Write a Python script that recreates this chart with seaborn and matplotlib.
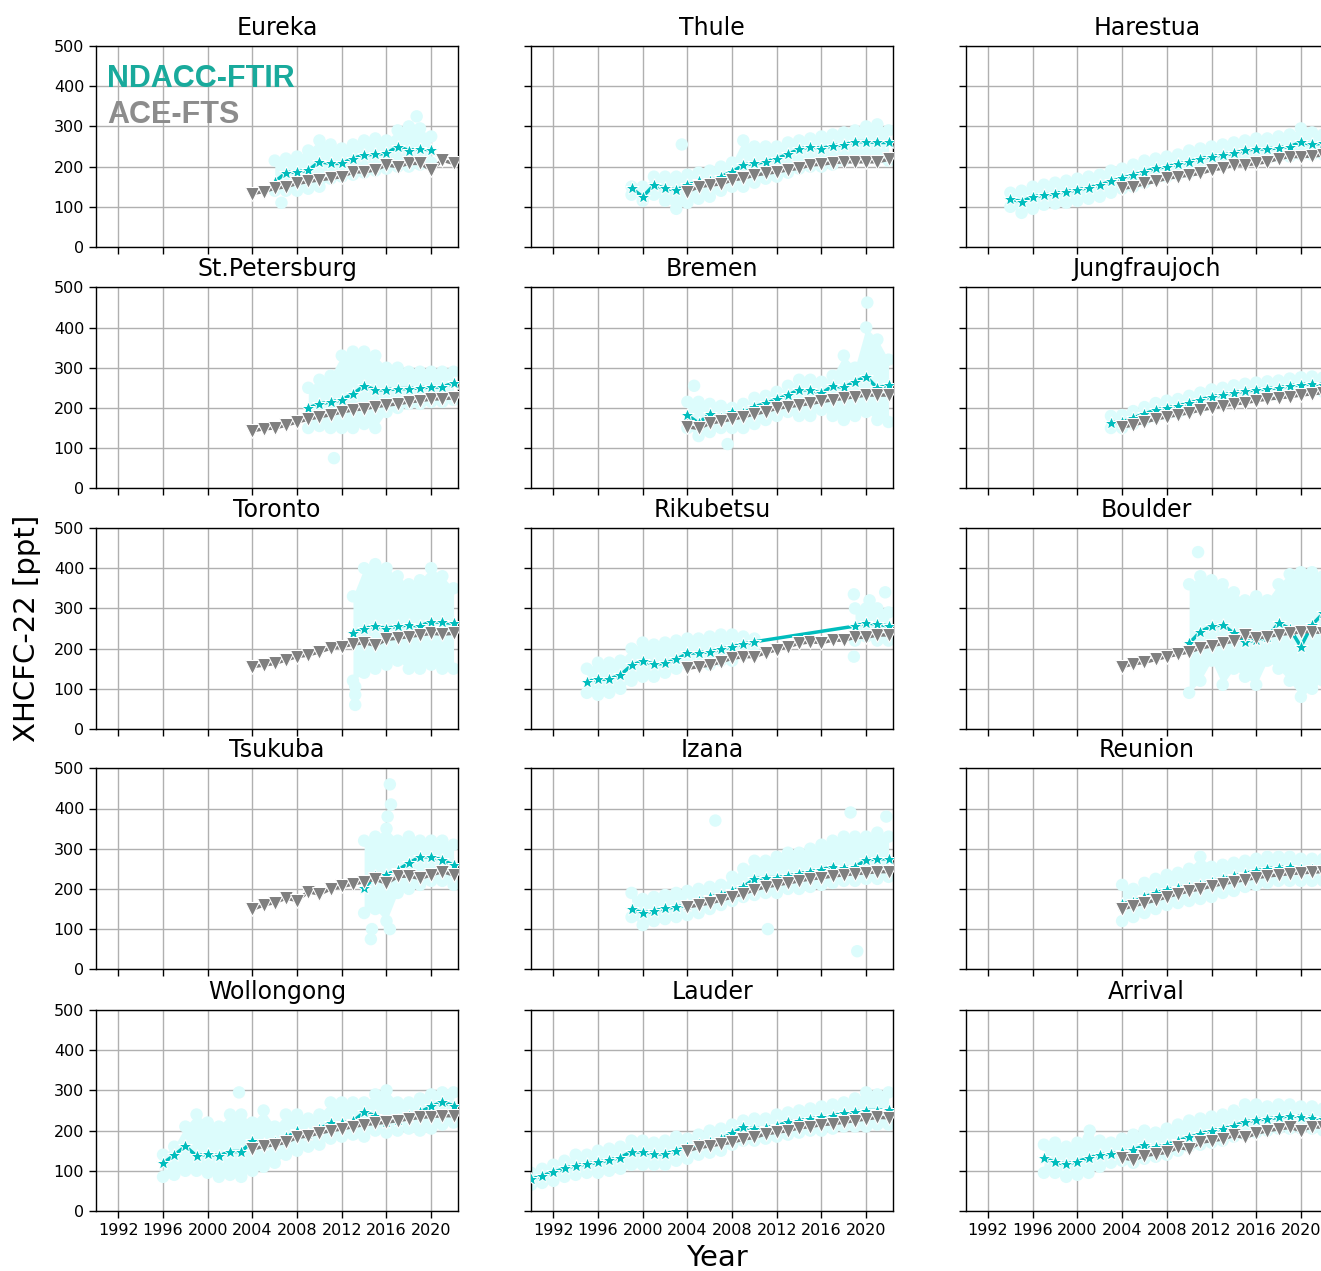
import matplotlib
matplotlib.use("Agg")
import matplotlib.pyplot as plt
import seaborn as sns
import numpy as np

# ---------------- data ----------------
ACE_YEARS = list(range(2004, 2023))

EUREKA_FTIR_YEARS = list(range(2006, 2021))
EUREKA_FTIR = [162, 185, 187, 191, 212, 208, 208, 220, 229, 231, 233, 250, 240, 245, 241]
EUREKA_LO = [140, 140, 140, 145, 150, 170, 175, 180, 185, 190, 195, 200, 200, 205, 210]
EUREKA_HI = [215, 220, 225, 240, 265, 255, 245, 255, 265, 270, 265, 290, 300, 295, 275]
EUREKA_OUT = [(2006.6, 110), (2018.7, 325)]
EUREKA_ACE = [133, 138, 146, 150, 158, 163, 167, 171, 175, 187, 187, 192, 204, 200, 208, 208, 192, 216, 208]

THULE_FTIR_YEARS = list(range(1999, 2023))
THULE_FTIR = [146, 125, 154, 146, 142, 154, 163, 163, 175, 187, 204, 208, 212, 220, 231, 243, 250, 245, 252, 254, 262, 262, 260, 260]
THULE_LO = [130, 115, 130, 115, 95, 110, 120, 125, 140, 150, 150, 160, 170, 175, 185, 195, 200, 200, 205, 215, 220, 220, 220, 215]
THULE_HI = [150, 150, 175, 175, 175, 180, 185, 190, 200, 210, 265, 250, 250, 250, 260, 265, 270, 275, 280, 285, 290, 300, 305, 290]
THULE_OUT = [(2003.5, 255)]
THULE_ACE = [138, 150, 154, 157, 167, 171, 179, 183, 187, 192, 196, 204, 206, 210, 212, 212, 212, 212, 218]

HARESTUA_FTIR_YEARS = list(range(1994, 2023))
HARESTUA_FTIR = [119, 113, 125, 129, 133, 138, 142, 148, 154, 163, 171, 179, 187, 196, 200, 206, 212, 220, 225, 229, 233, 241, 244, 244, 247, 250, 260, 256, 258]
HARESTUA_LO = [100, 85, 95, 105, 108, 110, 115, 120, 125, 135, 145, 150, 160, 170, 175, 180, 185, 195, 200, 205, 210, 215, 220, 220, 225, 225, 230, 230, 230]
HARESTUA_HI = [135, 140, 150, 155, 160, 165, 170, 175, 180, 190, 195, 205, 215, 220, 225, 230, 240, 245, 250, 255, 260, 265, 270, 270, 275, 280, 295, 285, 280]
HARESTUA_OUT = []
HARESTUA_ACE = [146, 150, 158, 163, 171, 175, 179, 183, 192, 196, 204, 204, 208, 212, 220, 225, 225, 226, 229]

STPETE_FTIR_YEARS = list(range(2009, 2023))
STPETE_FTIR = [200, 210, 215, 220, 235, 255, 245, 245, 248, 248, 250, 252, 252, 262]
STPETE_LO = [150, 155, 150, 150, 150, 160, 150, 190, 200, 210, 210, 215, 215, 220]
STPETE_HI = [250, 270, 280, 330, 340, 340, 330, 300, 300, 290, 290, 290, 290, 290]
STPETE_OUT = [(2011.3, 75)]
STPETE_ACE = [143, 148, 150, 157, 165, 172, 178, 183, 190, 195, 198, 203, 207, 210, 215, 218, 222, 223, 225]

BREMEN_FTIR_YEARS = list(range(2004, 2023))
BREMEN_FTIR = [182, 162, 185, 174, 191, 187, 203, 211, 221, 232, 245, 245, 236, 255, 251, 265, 278, 249, 257]
BREMEN_LO = [150, 130, 140, 150, 150, 150, 160, 170, 180, 190, 180, 180, 195, 180, 170, 180, 190, 170, 165]
BREMEN_HI = [215, 215, 210, 205, 200, 210, 225, 230, 240, 255, 270, 270, 265, 280, 330, 300, 400, 370, 320]
BREMEN_OUT = [(2004.6, 255), (2007.6, 110), (2020.1, 462)]
BREMEN_ACE = [153, 149, 162, 167, 172, 178, 185, 191, 199, 203, 207, 211, 216, 220, 224, 228, 232, 232, 232]

JUNGFRAU_FTIR_YEARS = list(range(2003, 2023))
JUNGFRAU_FTIR = [163, 165, 175, 185, 195, 200, 205, 212, 220, 228, 232, 238, 242, 245, 248, 250, 255, 258, 260, 258]
JUNGFRAU_LO = [150, 150, 160, 170, 178, 183, 188, 195, 202, 210, 214, 220, 224, 227, 230, 232, 237, 240, 242, 240]
JUNGFRAU_HI = [180, 182, 192, 202, 212, 218, 222, 230, 238, 246, 250, 256, 260, 263, 266, 268, 273, 276, 278, 276]
JUNGFRAU_OUT = []
JUNGFRAU_ACE = [152, 158, 165, 172, 178, 183, 188, 195, 200, 205, 210, 213, 218, 222, 225, 228, 232, 235, 238]

TORONTO_FTIR_YEARS = list(range(2013, 2023))
TORONTO_FTIR = [238, 250, 256, 250, 256, 259, 256, 267, 265, 263]
TORONTO_LO = [120, 140, 150, 160, 170, 150, 150, 160, 150, 150]
TORONTO_HI = [330, 400, 410, 400, 380, 360, 370, 400, 380, 350]
TORONTO_OUT = [(2013.2, 60), (2013.2, 85), (2013.2, 105)]
TORONTO_ACE = [155, 159, 163, 172, 180, 184, 192, 201, 205, 211, 215, 208, 223, 226, 230, 234, 238, 236, 238]

RIKU_FTIR_YEARS = list(range(1995, 2011)) + list(range(2019, 2023))
RIKU_FTIR = [118, 124, 124, 134, 159, 168, 162, 163, 173, 188, 190, 192, 198, 205, 211, 217, 256, 264, 261, 256]
RIKU_LO = [90, 85, 90, 100, 120, 130, 130, 140, 150, 160, 165, 160, 170, 170, 185, 190, 220, 230, 220, 220]
RIKU_HI = [150, 165, 165, 170, 200, 215, 210, 215, 220, 225, 225, 230, 235, 235, 230, 225, 300, 300, 300, 290]
RIKU_OUT = [(2018.9, 335), (2018.9, 180), (2021.7, 340), (2020.3, 320)]
RIKU_ACE = [151, 155, 159, 167, 176, 180, 180, 190, 197, 205, 213, 217, 215, 221, 221, 228, 228, 234, 234]

BOULDER_FTIR_YEARS = list(range(2010, 2023))
BOULDER_FTIR = [213, 242, 256, 259, 238, 217, 221, 228, 263, 250, 205, 259, 288]
BOULDER_LO = [90, 120, 170, 110, 150, 130, 110, 170, 150, 120, 80, 100, 120]
BOULDER_HI = [360, 380, 370, 360, 340, 320, 330, 320, 360, 385, 390, 390, 380]
BOULDER_OUT = [(2010.8, 440)]
BOULDER_ACE = [155, 162, 166, 173, 180, 186, 192, 201, 207, 213, 219, 234, 226, 230, 235, 238, 242, 242, 240]

TSUKUBA_FTIR_YEARS = list(range(2014, 2023))
TSUKUBA_FTIR = [202, 232, 235, 247, 264, 280, 280, 272, 259]
TSUKUBA_LO = [140, 150, 120, 190, 200, 210, 220, 220, 210]
TSUKUBA_HI = [320, 330, 350, 320, 330, 320, 320, 320, 310]
TSUKUBA_OUT = [(2014.6, 75), (2014.7, 100), (2016.3, 100), (2016.3, 460), (2016.4, 410), (2016.1, 380)]
TSUKUBA_ACE = [149, 160, 166, 177, 171, 193, 187, 200, 206, 212, 218, 224, 214, 231, 232, 226, 235, 243, 235]

IZANA_FTIR_YEARS = list(range(1999, 2023))
IZANA_FTIR = [150, 140, 145, 152, 155, 160, 170, 180, 185, 195, 205, 225, 228, 228, 232, 238, 243, 248, 255, 252, 255, 272, 275, 275]
IZANA_LO = [130, 110, 120, 125, 130, 135, 140, 150, 160, 170, 180, 185, 190, 190, 200, 200, 205, 210, 215, 220, 220, 225, 225, 230]
IZANA_HI = [190, 175, 180, 185, 190, 195, 200, 205, 210, 230, 250, 270, 270, 280, 290, 290, 300, 310, 320, 330, 330, 330, 340, 330]
IZANA_OUT = [(2006.5, 370), (2011.2, 100), (2019.2, 45), (2018.6, 390), (2021.8, 380)]
IZANA_ACE = [155, 160, 165, 172, 180, 188, 198, 205, 210, 215, 220, 225, 228, 232, 235, 238, 240, 243, 243]

REUNION_FTIR_YEARS = list(range(2004, 2023))
REUNION_FTIR = [163, 168, 180, 190, 197, 203, 205, 210, 218, 225, 232, 238, 245, 250, 253, 255, 250, 250, 250]
REUNION_LO = [120, 130, 140, 150, 160, 165, 170, 175, 180, 190, 195, 205, 210, 215, 220, 220, 220, 220, 220]
REUNION_HI = [210, 200, 215, 225, 235, 240, 250, 280, 255, 260, 265, 270, 275, 280, 280, 280, 275, 275, 275]
REUNION_OUT = []
REUNION_ACE = [150, 158, 165, 172, 180, 188, 195, 200, 207, 213, 218, 223, 228, 232, 235, 238, 240, 242, 243]

WOLLONGONG_FTIR_YEARS = list(range(1996, 2023))
WOLLONGONG_FTIR = [119, 139, 161, 137, 142, 137, 148, 148, 173, 167, 171, 183, 198, 192, 204, 219, 219, 223, 246, 237, 221, 227, 237, 246, 260, 271, 262]
WOLLONGONG_LO = [85, 90, 100, 100, 95, 85, 90, 85, 100, 110, 120, 140, 150, 160, 165, 180, 185, 190, 185, 200, 195, 200, 205, 200, 205, 215, 220]
WOLLONGONG_HI = [140, 160, 210, 240, 220, 210, 240, 240, 220, 250, 210, 240, 240, 230, 240, 270, 270, 270, 270, 290, 300, 270, 270, 280, 290, 295, 295]
WOLLONGONG_OUT = [(2002.8, 295)]
WOLLONGONG_ACE = [154, 161, 165, 171, 183, 187, 194, 200, 204, 210, 215, 218, 221, 225, 229, 233, 235, 237, 237]

LAUDER_FTIR_YEARS = list(range(1990, 2023))
LAUDER_FTIR = [79, 88, 96, 106, 113, 117, 121, 127, 133, 148, 146, 142, 142, 150, 158, 167, 171, 179, 193, 208, 204, 207, 212, 221, 225, 229, 233, 237, 243, 246, 250, 250, 252]
LAUDER_LO = [65, 70, 75, 85, 90, 95, 95, 100, 105, 115, 115, 115, 115, 125, 130, 140, 145, 150, 165, 175, 175, 180, 185, 190, 195, 200, 200, 205, 210, 210, 210, 215, 215]
LAUDER_HI = [95, 105, 115, 125, 140, 140, 150, 155, 160, 175, 175, 170, 175, 185, 180, 190, 200, 205, 215, 225, 230, 230, 240, 245, 250, 255, 260, 265, 270, 280, 295, 290, 295]
LAUDER_OUT = []
LAUDER_ACE = [150, 158, 162, 167, 171, 179, 183, 192, 196, 200, 207, 210, 215, 217, 221, 225, 229, 233, 232]

ARRIVAL_FTIR_YEARS = list(range(1997, 2023))
ARRIVAL_FTIR = [132, 121, 117, 123, 132, 140, 142, 146, 152, 163, 158, 165, 175, 183, 192, 200, 204, 212, 221, 227, 229, 233, 237, 235, 232, 229]
ARRIVAL_LO = [95, 95, 85, 90, 95, 110, 120, 125, 120, 130, 135, 140, 150, 160, 165, 170, 175, 185, 190, 195, 200, 205, 205, 205, 205, 200]
ARRIVAL_HI = [165, 170, 160, 170, 180, 175, 170, 180, 190, 200, 195, 205, 215, 225, 230, 235, 240, 250, 265, 265, 260, 265, 265, 260, 260, 255]
ARRIVAL_OUT = [(2001.1, 200)]
ARRIVAL_ACE = [133, 127, 138, 142, 146, 158, 154, 171, 175, 179, 188, 183, 193, 200, 204, 208, 200, 210, 208]

STATION_NAMES = ["Eureka", "Thule", "Harestua", "St.Petersburg", "Bremen", "Jungfraujoch",
                 "Toronto", "Rikubetsu", "Boulder", "Tsukuba", "Izana", "Reunion",
                 "Wollongong", "Lauder", "Arrival"]

Y_TICKS = [0, 100, 200, 300, 400, 500]
X_TICKS = [1992, 1996, 2000, 2004, 2008, 2012, 2016, 2020]

STATIONS = [
    (EUREKA_FTIR_YEARS, EUREKA_FTIR, EUREKA_LO, EUREKA_HI, EUREKA_OUT, EUREKA_ACE),
    (THULE_FTIR_YEARS, THULE_FTIR, THULE_LO, THULE_HI, THULE_OUT, THULE_ACE),
    (HARESTUA_FTIR_YEARS, HARESTUA_FTIR, HARESTUA_LO, HARESTUA_HI, HARESTUA_OUT, HARESTUA_ACE),
    (STPETE_FTIR_YEARS, STPETE_FTIR, STPETE_LO, STPETE_HI, STPETE_OUT, STPETE_ACE),
    (BREMEN_FTIR_YEARS, BREMEN_FTIR, BREMEN_LO, BREMEN_HI, BREMEN_OUT, BREMEN_ACE),
    (JUNGFRAU_FTIR_YEARS, JUNGFRAU_FTIR, JUNGFRAU_LO, JUNGFRAU_HI, JUNGFRAU_OUT, JUNGFRAU_ACE),
    (TORONTO_FTIR_YEARS, TORONTO_FTIR, TORONTO_LO, TORONTO_HI, TORONTO_OUT, TORONTO_ACE),
    (RIKU_FTIR_YEARS, RIKU_FTIR, RIKU_LO, RIKU_HI, RIKU_OUT, RIKU_ACE),
    (BOULDER_FTIR_YEARS, BOULDER_FTIR, BOULDER_LO, BOULDER_HI, BOULDER_OUT, BOULDER_ACE),
    (TSUKUBA_FTIR_YEARS, TSUKUBA_FTIR, TSUKUBA_LO, TSUKUBA_HI, TSUKUBA_OUT, TSUKUBA_ACE),
    (IZANA_FTIR_YEARS, IZANA_FTIR, IZANA_LO, IZANA_HI, IZANA_OUT, IZANA_ACE),
    (REUNION_FTIR_YEARS, REUNION_FTIR, REUNION_LO, REUNION_HI, REUNION_OUT, REUNION_ACE),
    (WOLLONGONG_FTIR_YEARS, WOLLONGONG_FTIR, WOLLONGONG_LO, WOLLONGONG_HI, WOLLONGONG_OUT, WOLLONGONG_ACE),
    (LAUDER_FTIR_YEARS, LAUDER_FTIR, LAUDER_LO, LAUDER_HI, LAUDER_OUT, LAUDER_ACE),
    (ARRIVAL_FTIR_YEARS, ARRIVAL_FTIR, ARRIVAL_LO, ARRIVAL_HI, ARRIVAL_OUT, ARRIVAL_ACE),
]

# ---------------- style ----------------
FTIR_COLOR = "#00bdbd"
ACE_COLOR = "#7f7f7f"
BAND_COLOR = "#dcfcfc"

W, H = 1321, 1271
fig = plt.figure(figsize=(W / 100, H / 100), dpi=100)

COL_LEFT = [96, 531, 965.7]
ROW_TOP = [46, 287.3, 528, 768.3, 1010]
AX_W, AX_H = 362, 201

axes = []
first = None
for i, (name, st) in enumerate(zip(STATION_NAMES, STATIONS)):
    r, c = divmod(i, 3)
    rect = [COL_LEFT[c] / W, 1 - (ROW_TOP[r] + AX_H) / H, AX_W / W, AX_H / H]
    ax = fig.add_axes(rect, sharex=first, sharey=first)
    if first is None:
        first = ax
    axes.append(ax)
    yrs, ftir, lo, hi, out, ace = st
    yrs_a = np.array(yrs, dtype=float)
    lo_a = np.array(lo, dtype=float)
    hi_a = np.array(hi, dtype=float)

    # individual measurements (spread cloud)
    brk = np.where(np.diff(yrs_a) > 1)[0] + 1
    for seg in np.split(np.arange(len(yrs_a)), brk):
        if len(seg) > 1:
            ax.fill_between(yrs_a[seg], lo_a[seg], hi_a[seg], color=BAND_COLOR,
                            lw=0, zorder=1)
    cx = list(yrs) + list(yrs) + [p[0] for p in out]
    cy = list(lo) + list(hi) + [p[1] for p in out]
    sns.scatterplot(x=cx, y=cy, ax=ax, s=80, color=BAND_COLOR, edgecolor="none",
                    linewidth=0, zorder=1, legend=False)

    # NDACC-FTIR annual means
    sns.lineplot(x=yrs, y=ftir, ax=ax, color=FTIR_COLOR, marker="*", markersize=10,
                 linewidth=2.5, estimator=None, sort=False, zorder=3)
    # ACE-FTS
    sns.lineplot(x=ACE_YEARS, y=ace, ax=ax, color=ACE_COLOR, marker="v", markersize=10,
                 linewidth=2.5, estimator=None, sort=False, zorder=4)

    ax.set_title(name, fontsize=17, pad=8)
    ax.grid(True, color="#b0b0b0", lw=1.0)
    ax.set_axisbelow(True)
    for sp in ax.spines.values():
        sp.set_linewidth(1.0)
    ax.tick_params(labelsize=11.5, length=5, width=1.0,
                   labelbottom=(r == 4), labelleft=(c == 0))
    ax.set_xlabel("")
    ax.set_ylabel("")

first.set_xlim(1990, 2022.4)
first.set_ylim(0, 500)
first.set_xticks(X_TICKS)
first.set_yticks(Y_TICKS)

# legend-like labels
axes[0].text(0.03, 0.7945, "NDACC-FTIR", transform=axes[0].transAxes, fontsize=22,
             fontweight="bold", color="#19aa9c", family="Liberation Sans", va="baseline", zorder=6)
axes[0].text(0.03, 0.6184, "ACE-FTS", transform=axes[0].transAxes, fontsize=22,
             fontweight="bold", color="#8c8c8c", family="Liberation Sans", va="baseline", zorder=6)

fig.text(27 / W, 1 - 628 / H, "XHCFC-22 [ppt]", rotation=90, ha="center", va="center",
         fontsize=21)
fig.text(717 / W, 1 - 1258 / H, "Year", ha="center", va="center", fontsize=21)

fig.savefig("out.png", dpi=100)
